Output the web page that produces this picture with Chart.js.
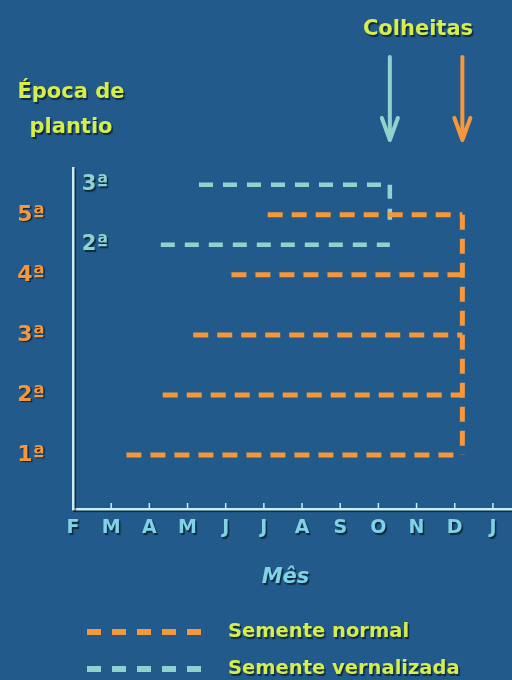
<!DOCTYPE html>
<html>
<head>
  <title>Época de plantio</title>
  <script src="https://cdn.jsdelivr.net/npm/chart.js"></script>
  <style>
    body { margin: 0; background: #215a8b; }
  </style>
</head>
<body>
  <canvas id="plantio" width="512" height="680"></canvas>

  <script>
    // eixo x: meses de fevereiro a janeiro (0 = F ... 11 = J)
    const meses = ['F', 'M', 'A', 'M', 'J', 'J', 'A', 'S', 'O', 'N', 'D', 'J'];
    const epocas = ['1ª', '2ª', '3ª', '4ª', '5ª'];

    // semente normal: mês de plantio de cada época, colheita comum
    const normalInicio = [1.4, 2.35, 3.15, 4.15, 5.1];
    const normalColheita = 10.2;

    // semente vernalizada
    const vernEpocas = ['2ª', '3ª'];
    const vernLinha = [4.5, 5.5];
    const vernInicio = [2.3, 3.3];
    const vernColheita = 8.3;
    const vernDescida = 4.92;

    const laranja = '#f5973a';
    const ciano = '#8fd3cf';
    const amarelo = '#d6ee4c';
    const eixo = '#c8eef3';
    const azulTexto = '#82d2e6';
    const fundo = '#215a8b';
    const fonte = '"DejaVu Sans", sans-serif';

    function linha(pts, cor, dash, w) {
      return {
        data: pts,
        borderColor: cor,
        borderDash: dash,
        borderWidth: w,
        borderCapStyle: 'butt',
        showLine: true,
        pointRadius: 0,
        fill: false
      };
    }

    const datasets = [];
    normalInicio.forEach((x0, i) => {
      datasets.push(linha([{x: x0, y: i + 1}, {x: normalColheita, y: i + 1}], laranja, [15, 9], 5));
    });
    datasets.push(linha([{x: normalColheita, y: 5}, {x: normalColheita, y: 1}], laranja, [15, 9], 5));
    vernInicio.forEach((x0, i) => {
      datasets.push(linha([{x: x0, y: vernLinha[i]}, {x: vernColheita, y: vernLinha[i]}], ciano, [14, 10], 4.5));
    });
    datasets.push(linha([{x: vernColheita, y: vernLinha[1]}, {x: vernColheita, y: vernDescida}], ciano, [14, 10], 4.5));

    function sombra(ctx, on) {
      ctx.shadowColor = on ? 'rgba(0,0,0,0.55)' : 'transparent';
      ctx.shadowOffsetX = on ? 1.5 : 0;
      ctx.shadowOffsetY = on ? 1.5 : 0;
      ctx.shadowBlur = on ? 1 : 0;
    }

    function texto(ctx, s, x, y, cor, font, align) {
      ctx.save();
      sombra(ctx, true);
      ctx.font = font;
      ctx.fillStyle = cor;
      ctx.textAlign = align || 'center';
      ctx.textBaseline = 'middle';
      ctx.fillText(s, x, y);
      ctx.restore();
    }

    function seta(ctx, x, y0, y1, cor) {
      ctx.save();
      ctx.strokeStyle = cor;
      ctx.lineWidth = 4;
      ctx.lineCap = 'round';
      ctx.lineJoin = 'round';
      ctx.beginPath();
      ctx.moveTo(x, y0);
      ctx.lineTo(x, y1 - 2);
      ctx.moveTo(x - 8, y1 - 22);
      ctx.lineTo(x, y1);
      ctx.lineTo(x + 8, y1 - 22);
      ctx.stroke();
      ctx.restore();
    }

    function tracejado(ctx, x0, x1, y, cor, w) {
      ctx.save();
      ctx.strokeStyle = cor;
      ctx.lineWidth = w;
      ctx.setLineDash([14, 11]);
      ctx.beginPath();
      ctx.moveTo(x0, y);
      ctx.lineTo(x1, y);
      ctx.stroke();
      ctx.restore();
    }

    const extras = {
      id: 'extras',
      beforeDraw(chart) {
        const ctx = chart.ctx;
        ctx.save();
        ctx.fillStyle = fundo;
        ctx.fillRect(0, 0, chart.width, chart.height);
        ctx.restore();
        sombra(ctx, true);
      },
      beforeDatasetsDraw(chart) {
        sombra(chart.ctx, false);
      },
      afterDraw(chart) {
        const ctx = chart.ctx;
        const xs = chart.scales.x, ys = chart.scales.y;
        const area = chart.chartArea;

        // marcas dos meses, para cima
        ctx.save();
        ctx.strokeStyle = eixo;
        ctx.lineWidth = 1.5;
        for (let i = 1; i < meses.length; i++) {
          const px = xs.getPixelForValue(i);
          ctx.beginPath();
          ctx.moveTo(px, area.bottom);
          ctx.lineTo(px, area.bottom - 6);
          ctx.stroke();
        }
        ctx.restore();

        // rótulos da semente vernalizada
        vernEpocas.forEach((s, i) => {
          texto(ctx, s, 95, ys.getPixelForValue(vernLinha[i]), ciano, 'bold 21px ' + fonte);
        });

        // colheitas
        texto(ctx, 'Colheitas', 418, 30, amarelo, 'bold 21px ' + fonte);
        seta(ctx, xs.getPixelForValue(vernColheita), 57, 140, ciano);
        seta(ctx, xs.getPixelForValue(normalColheita), 57, 140, laranja);

        texto(ctx, 'Época de', 71, 93, amarelo, 'bold 21px ' + fonte);
        texto(ctx, 'plantio', 71, 128, amarelo, 'bold 21px ' + fonte);
        texto(ctx, 'Mês', (area.left + area.right) / 2 - 7, 578, azulTexto, 'italic bold 21px ' + fonte);

        // legenda
        tracejado(ctx, 87, 205, 632, laranja, 6);
        tracejado(ctx, 87, 205, 669, ciano, 6);
        texto(ctx, 'Semente normal', 228, 632, amarelo, 'bold 19.5px ' + fonte, 'left');
        texto(ctx, 'Semente vernalizada', 228, 669, amarelo, 'bold 19.5px ' + fonte, 'left');
      }
    };

    new Chart(document.getElementById('plantio'), {
      type: 'scatter',
      data: { datasets },
      options: {
        responsive: false,
        animation: false,
        layout: { padding: { top: 168, right: 0, bottom: 131, left: 0 } },
        plugins: { legend: { display: false }, tooltip: { enabled: false } },
        scales: {
          x: {
            type: 'linear',
            min: 0,
            max: 11.5,
            afterBuildTicks: s => { s.ticks = meses.map((m, i) => ({ value: i })); },
            afterFit: s => { s.height = 40; },
            grid: { drawOnChartArea: false, drawTicks: false },
            border: { color: eixo, width: 2.5 },
            ticks: {
              callback: v => meses[v],
              color: azulTexto,
              font: { family: fonte, size: 19, weight: 'bold' },
              padding: 8,
              maxRotation: 0,
              autoSkip: false
            }
          },
          y: {
            type: 'linear',
            min: 0.1,
            max: 5.78,
            afterBuildTicks: s => { s.ticks = epocas.map((e, i) => ({ value: i + 1 })); },
            afterFit: s => { s.width = 73; },
            grid: { drawOnChartArea: false, drawTicks: false },
            border: { color: eixo, width: 2.5 },
            ticks: {
              callback: v => epocas[v - 1],
              color: laranja,
              font: { family: fonte, size: 22, weight: 'bold' },
              padding: 28
            }
          }
        }
      },
      plugins: [extras]
    });
  </script>
</body>
</html>
